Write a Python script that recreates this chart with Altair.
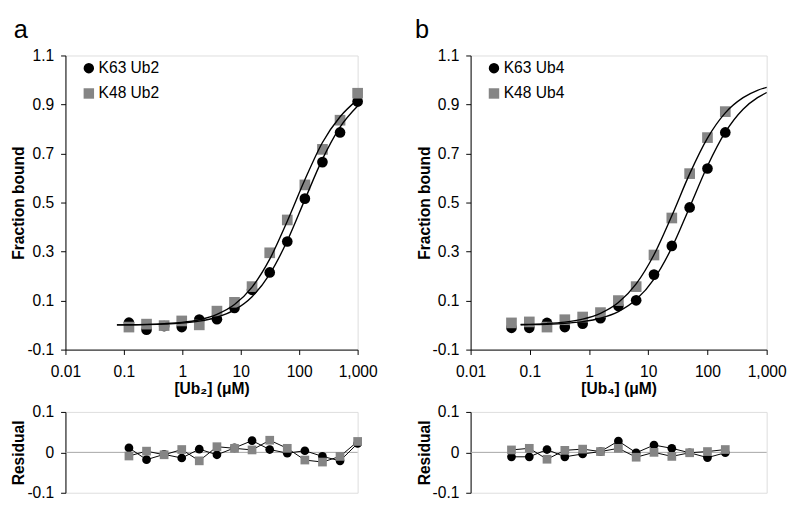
import altair as alt
import pandas as pd

FONT = "Liberation Sans"

# ---------------- Panel a : Ub2 ----------------
conc_a = [0.122, 0.244, 0.488, 0.977, 1.95, 3.91, 7.81, 15.6, 31.3, 62.5, 125, 250, 500, 1000]
k63_a = [0.010, -0.019, -0.004, -0.008, 0.023, 0.024, 0.070, 0.144, 0.215, 0.341, 0.516, 0.665, 0.786, 0.912]
k48_a = [-0.008, 0.004, -0.002, 0.017, 0.001, 0.057, 0.093, 0.157, 0.295, 0.429, 0.572, 0.717, 0.836, 0.946]
res63_a = [0.011, -0.018, -0.005, -0.014, 0.008, -0.006, 0.011, 0.029, 0.007, -0.002, 0.004, -0.010, -0.021, 0.022]
res48_a = [-0.009, 0.003, -0.006, 0.007, -0.021, 0.014, 0.010, 0.006, 0.030, 0.010, -0.019, -0.024, -0.010, 0.027]
fitx_a = [0.076, 0.122, 0.244, 0.488, 0.977, 1.95, 3.91, 7.81, 15.6, 31.3, 62.5, 125, 250, 500, 1000]
fit63_a = [0.001, 0.001, 0.002, 0.004, 0.008, 0.016, 0.032, 0.062, 0.116, 0.208, 0.344, 0.512, 0.677, 0.808, 0.894]
fit48_a = [0.001, 0.0014, 0.003, 0.006, 0.011, 0.022, 0.044, 0.084, 0.155, 0.269, 0.424, 0.593, 0.745, 0.850, 0.920]

# ---------------- Panel b : Ub4 ----------------
conc_b = [0.049, 0.098, 0.195, 0.39, 0.78, 1.56, 3.13, 6.25, 12.5, 25, 50, 100, 200]
k63_b = [-0.011, -0.011, 0.009, -0.008, 0.006, 0.028, 0.078, 0.101, 0.206, 0.323, 0.480, 0.639, 0.786]
k48_b = [0.009, 0.013, -0.008, 0.022, 0.033, 0.051, 0.100, 0.157, 0.286, 0.437, 0.618, 0.765, 0.871]
res63_b = [-0.011, -0.011, 0.007, -0.011, -0.004, 0.002, 0.028, -0.001, 0.018, 0.010, -0.001, -0.013, -0.001]
res48_b = [0.006, 0.010, -0.017, 0.005, 0.008, 0.002, 0.010, -0.012, 0.000, -0.010, -0.001, 0.002, 0.007]
fitx_b = [0.07, 0.098, 0.195, 0.39, 0.78, 1.56, 3.13, 6.25, 12.5, 25, 50, 100, 200, 400, 700, 1000]
fit63_b = [0.0013, 0.0018, 0.0036, 0.0072, 0.0142, 0.028, 0.055, 0.104, 0.188, 0.316, 0.481, 0.649, 0.787, 0.881, 0.928, 0.949]
fit48_b = [0.0023, 0.0032, 0.0063, 0.0124, 0.0245, 0.048, 0.092, 0.168, 0.287, 0.446, 0.617, 0.763, 0.866, 0.928, 0.958, 0.970]

x_ticks = [0.01, 0.1, 1, 10, 100, 1000]
y_ticks = [-0.1, 0.1, 0.3, 0.5, 0.7, 0.9, 1.1]
r_ticks = [-0.1, 0, 0.1]

BLACK = "#000000"
GRAY = "#858585"


def panel(conc, d63, d48, r63, r48, fx, f63, f48, name63, name48, label, xtitle, width, ldx):
    pts = pd.DataFrame(
        {"c": conc + conc, "v": d63 + d48, "s": [name63] * len(conc) + [name48] * len(conc)}
    )
    res = pd.DataFrame(
        {"c": conc + conc, "v": r63 + r48, "s": [name63] * len(conc) + [name48] * len(conc)}
    )
    fit = pd.DataFrame(
        {"c": fx + fx, "v": f63 + f48, "s": [name63] * len(fx) + [name48] * len(fx)}
    )
    zero = pd.DataFrame({"c": [0.01], "c2": [1000], "v": [0]})

    xscale = alt.Scale(type="log", domain=[0.01, 1000])
    color = alt.Color(
        "s:N",
        scale=alt.Scale(domain=[name63, name48], range=[BLACK, GRAY]),
        legend=alt.Legend(
            title=None,
            orient="none",
            legendX=16,
            legendY=5,
            labelFont=FONT,
            labelFontSize=16,
            labelColor="black",
            labelOffset=2,
            symbolSize=115,
            symbolStrokeWidth=0,
            symbolOpacity=1,
            rowPadding=10,
        ),
    )
    shape = alt.Shape(
        "s:N", scale=alt.Scale(domain=[name63, name48], range=["circle", "square"]), legend=None
    )

    x_main = alt.X(
        "c:Q",
        scale=xscale,
        axis=alt.Axis(
            values=x_ticks,
            format=",~g",
            title=xtitle,
            labelPadding=10,
            titlePadding=1,
            labelFlush=False,
        ),
    )
    y_main = alt.Y(
        "v:Q",
        scale=alt.Scale(domain=[-0.1, 1.1], nice=False, zero=False),
        axis=alt.Axis(values=y_ticks, format=".1f", title="Fraction bound",
                      labelExpr="replace(datum.label, '\u2212', '-')", titlePadding=0),
    )

    points = alt.Chart(pts).mark_point(filled=True, opacity=1, size=120).encode(
        x=x_main, y=y_main, color=color, shape=shape
    )
    curves = alt.Chart(fit).mark_line(color="black", strokeWidth=1.4, interpolate="monotone").encode(
        x="c:Q", y="v:Q", detail="s:N"
    )
    main = alt.layer(points, curves).properties(
        width=width,
        height=302,
        title=alt.TitleParams(
            label,
            anchor="start",
            frame="group",
            fontSize=26,
            fontWeight="normal",
            font=FONT,
            color="black",
            dx=ldx,
            offset=5,
        ),
    )

    x_res = alt.X("c:Q", scale=xscale, axis=None)
    y_res = alt.Y(
        "v:Q",
        scale=alt.Scale(domain=[-0.1, 0.1], nice=False),
        axis=alt.Axis(values=r_ticks, title="Residual", format="~g",
                      labelExpr="replace(datum.label, '\u2212', '-')", titlePadding=0),
    )
    zline = alt.Chart(zero).mark_rule(color="#a6a6a6", strokeWidth=1).encode(
        x=alt.X("c:Q", scale=xscale, axis=None), x2="c2:Q", y=alt.Y("v:Q")
    )
    rlines = alt.Chart(res).mark_line(color="black", strokeWidth=1).encode(
        x=x_res, y=y_res, detail="s:N"
    )
    rpoints = alt.Chart(res).mark_point(filled=True, opacity=1, size=80).encode(
        x=x_res, y=y_res,
        color=alt.Color("s:N", scale=alt.Scale(domain=[name63, name48], range=[BLACK, GRAY]), legend=None),
        shape=shape,
    )
    resid = alt.layer(zline, rlines, rpoints).properties(width=width, height=83)

    return alt.vconcat(main, resid, spacing=64, bounds="flush").resolve_scale(
        color="independent", shape="independent"
    )


pa = panel(conc_a, k63_a, k48_a, res63_a, res48_a, fitx_a, fit63_a, fit48_a,
           "K63 Ub2", "K48 Ub2", "a", "[Ub\u2082] (\u03bcM)", 300, -53)
pb = panel(conc_b, k63_b, k48_b, res63_b, res48_b, fitx_b, fit63_b, fit48_b,
           "K63 Ub4", "K48 Ub4", "b", "[Ub\u2084] (\u03bcM)", 304, -57)

chart = (
    alt.hconcat(pa, pb, spacing=37)
    .resolve_scale(color="independent", shape="independent")
    .properties(padding={"left": 2, "top": 2, "right": 5, "bottom": 5})
    .configure_view(strokeWidth=0)
    .configure(font=FONT)
    .configure_axis(
        labelFont=FONT,
        labelFontSize=16,
        labelColor="black",
        titleFont=FONT,
        titleFontSize=16,
        titleFontWeight="bold",
        titleColor="black",
        domainColor="black",
        domainWidth=1,
        tickColor="black",
        tickWidth=1,
        tickSize=5,
        labelPadding=7,
        grid=False,
    )
)

chart.save("out.html", embed_options={"renderer": "svg", "actions": False})
